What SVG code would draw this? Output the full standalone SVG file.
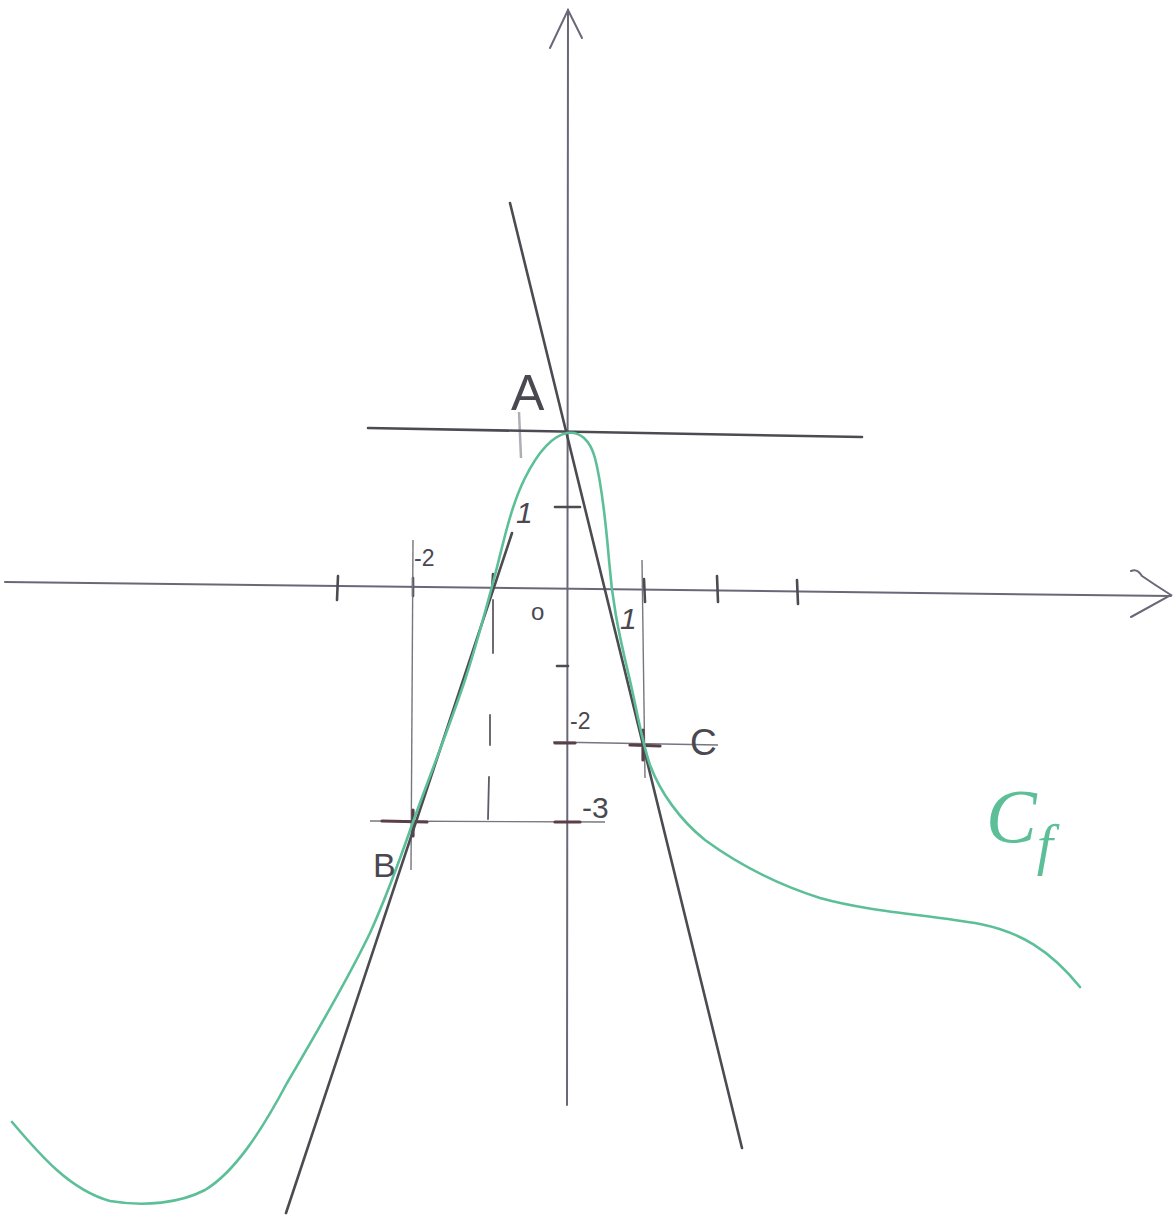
<svg xmlns="http://www.w3.org/2000/svg" width="1176" height="1218" viewBox="0 0 1176 1218">
<style>
.axis{stroke:#6a6878;stroke-width:2;fill:none;stroke-linecap:round}
.thin{stroke:#77757f;stroke-width:1.4;fill:none}
.pen{stroke:#4d4b52;stroke-width:2.6;fill:none;stroke-linecap:round}
.dash{stroke:#5d5b63;stroke-width:1.8;fill:none;stroke-linecap:round}
.mark{stroke:#5a3f48;stroke-width:3.2;fill:none;stroke-linecap:round}
.curve{stroke:#5cbf98;stroke-width:2.6;fill:none;stroke-linecap:round;stroke-linejoin:round}
.lbl{font-family:"Liberation Sans",Arial,sans-serif;fill:#4a4850}
</style>
<rect width="1176" height="1218" fill="#ffffff"/>
<g id="axes">
  <line class="axis" x1="5" y1="582" x2="1171" y2="596"/>
  <path class="axis" d="M1131,571 Q1137,568 1142,576 Q1155,585 1171,595 L1131,617"/>
  <line class="axis" x1="568" y1="10" x2="567" y2="1105"/>
  <path class="axis" d="M550,48 L568,10 L582,38"/>
  <g id="ticks">
    <line class="pen" x1="338" y1="576" x2="337" y2="600"/>
    <line class="pen" x1="413" y1="578" x2="413" y2="596"/>
    <line class="pen" x1="493" y1="574" x2="492" y2="592"/>
    <line class="pen" x1="644" y1="579" x2="645" y2="602"/>
    <line class="pen" x1="717" y1="576" x2="718" y2="602"/>
    <line class="pen" x1="797" y1="580" x2="798" y2="604"/>
    <line class="pen" x1="555" y1="507" x2="580" y2="507"/>
    <line class="pen" x1="557" y1="666" x2="568" y2="666"/>
  </g>
</g>
<g id="construction">
  <line class="thin" x1="413" y1="540" x2="411" y2="870"/>
  <line class="thin" x1="642" y1="560" x2="645" y2="778"/>
  <line class="thin" x1="553" y1="742" x2="718" y2="745"/>
  <line class="thin" x1="370" y1="821" x2="605" y2="822"/>
  <line class="dash" x1="493" y1="600" x2="493" y2="653"/>
  <line class="dash" x1="490" y1="715" x2="490" y2="745"/>
  <line class="dash" x1="489" y1="777" x2="488" y2="819"/>
  <line class="mark" x1="555" y1="743" x2="575" y2="743"/>
  <line class="mark" x1="555" y1="822" x2="580" y2="822"/>
  <line class="mark" x1="382" y1="821" x2="427" y2="822"/>
  <line class="mark" x1="413" y1="810" x2="413" y2="836"/>
  <line class="mark" x1="630" y1="745" x2="660" y2="746"/>
  <line class="mark" x1="643" y1="730" x2="643" y2="760"/>
  <line x1="519" y1="412" x2="521" y2="458" stroke="#b0aeb4" stroke-width="2.5"/>
</g>
<g id="connectors">
  <line class="pen" x1="368" y1="428" x2="862" y2="437"/>
  <line class="pen" x1="510" y1="203" x2="742" y2="1148"/>
  <line class="pen" x1="286" y1="1213" x2="512" y2="533"/>
</g>
<g id="curve">
  <path class="curve" d="M12,1122 C40,1155 70,1190 110,1201 C145,1207 180,1203 205,1190 C235,1172 262,1130 287,1083 C315,1035 345,985 370,933 C385,900 398,865 413,822 C430,775 450,725 465,680 C478,640 487,605 495,575 C503,545 510,508 525,478 C538,452 552,436 567,433 C580,431 590,440 595,458 C602,485 606,525 609,560 C612,600 618,630 628,672 C636,705 641,738 650,765 C660,792 680,820 705,840 C735,862 770,882 820,898 C870,912 930,915 980,924 C1020,932 1050,950 1080,987"/>
</g>
<g id="point-A"><text class="lbl" x="511" y="410" font-size="50">A</text></g>
<g id="point-B"><text class="lbl" x="373" y="877" font-size="34">B</text></g>
<g id="point-C"><text class="lbl" x="690" y="755" font-size="37">C</text></g>
<g id="labels">
  <text class="lbl" x="516" y="523" font-size="30" font-style="italic">1</text>
  <text class="lbl" x="414" y="566" font-size="23">-2</text>
  <text class="lbl" x="531" y="620" font-size="24">o</text>
  <text class="lbl" x="620" y="629" font-size="30" font-style="italic">1</text>
  <text class="lbl" x="570" y="729" font-size="23">-2</text>
  <text class="lbl" x="582" y="818" font-size="30">-3</text>
</g>
<g id="curve-label">
  <text x="986" y="842" font-family="'Liberation Serif',serif" font-style="italic" font-size="76" fill="#5cbf98">C<tspan font-size="58" dy="22">f</tspan></text>
</g>
</svg>
